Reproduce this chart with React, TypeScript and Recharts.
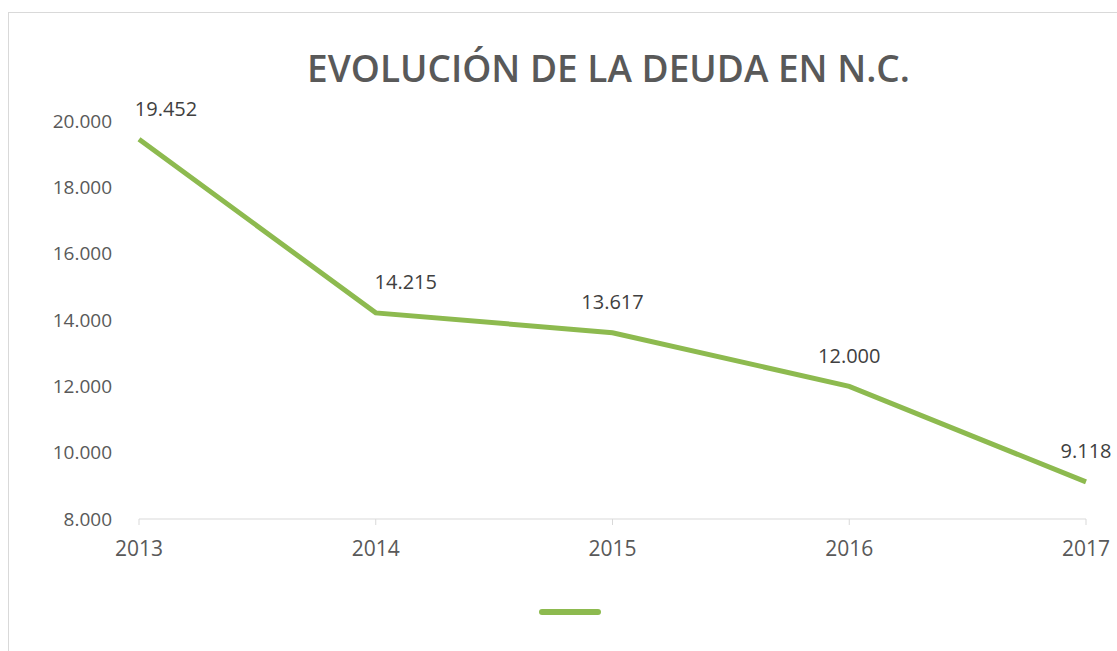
import { LineChart, Line, XAxis, YAxis, Legend, LabelList } from "recharts";

const years = ["2013", "2014", "2015", "2016", "2017"];
const debt = [19452, 14215, 13617, 12000, 9118];
const yTicks = [8000, 10000, 12000, 14000, 16000, 18000, 20000];

const data = years.map((year, i) => ({ year, debt: debt[i] }));

const GREEN = "#8DBA4F";
const FONT = "'Open Sans', 'DejaVu Sans', sans-serif";

const fmt = (v: number) => v.toLocaleString("de-DE");

// Excel nudged the first two labels right to keep them off the line
const labelDx = [27, 30, 0, 0, 0];

function PointLabel(props: any) {
  const { x, y, value, index } = props;
  return (
    <text
      x={x + (labelDx[index] ?? 0)}
      y={y - 31}
      textAnchor="middle"
      dominantBaseline="central"
      fill="#404040"
      fontSize={20}
      fontFamily={FONT}
    >
      {fmt(value)}
    </text>
  );
}

function LegendLine() {
  return <div style={{ width: 62, height: 6, borderRadius: 3, background: GREEN }} />;
}

export default function App() {
  return (
    <div style={{ position: "absolute", left: 0, top: 0, width: 1117, height: 651, overflow: "hidden", background: "#fff" }}>
      <div
        style={{
          position: "absolute",
          left: 8,
          top: 12,
          width: 1200,
          height: 800,
          border: "1px solid #d9d9d9",
        }}
      />
      <div
        style={{
          position: "absolute",
          left: 0,
          top: 42,
          width: 1217,
          textAlign: "center",
          fontFamily: FONT,
          fontWeight: 600,
          fontSize: 37,
          color: "#595959",
        }}
      >
        EVOLUCIÓN DE LA DEUDA EN N.C.
      </div>
      <div style={{ position: "absolute", left: 0, top: 0 }}>
        <LineChart width={1117} height={651} data={data} margin={{ top: 121, right: 31, left: 19, bottom: 96 }}>
          <XAxis
            dataKey="year"
            height={30}
            stroke="#d9d9d9"
            tickSize={6}
            tickMargin={16}
            tick={{ fill: "#595959", fontSize: 21, fontFamily: FONT }}
            interval={0}
            padding={{ left: 0, right: 0 }}
          />
          <YAxis
            width={120}
            domain={[8000, 20000]}
            ticks={yTicks}
            interval={0}
            axisLine={false}
            tickLine={false}
            tickMargin={21}
            tickFormatter={fmt}
            tick={{ fill: "#595959", fontSize: 19, fontFamily: FONT }}
          />
          <Legend
            content={<LegendLine />}
            wrapperStyle={{ position: "absolute", left: 539, top: 609, width: 62, height: 6, bottom: "auto" }}
          />
          <Line
            type="linear"
            dataKey="debt"
            stroke={GREEN}
            strokeWidth={5}
            dot={false}
            activeDot={false}
            isAnimationActive={false}
          >
            <LabelList dataKey="debt" content={<PointLabel />} />
          </Line>
        </LineChart>
      </div>
    </div>
  );
}
